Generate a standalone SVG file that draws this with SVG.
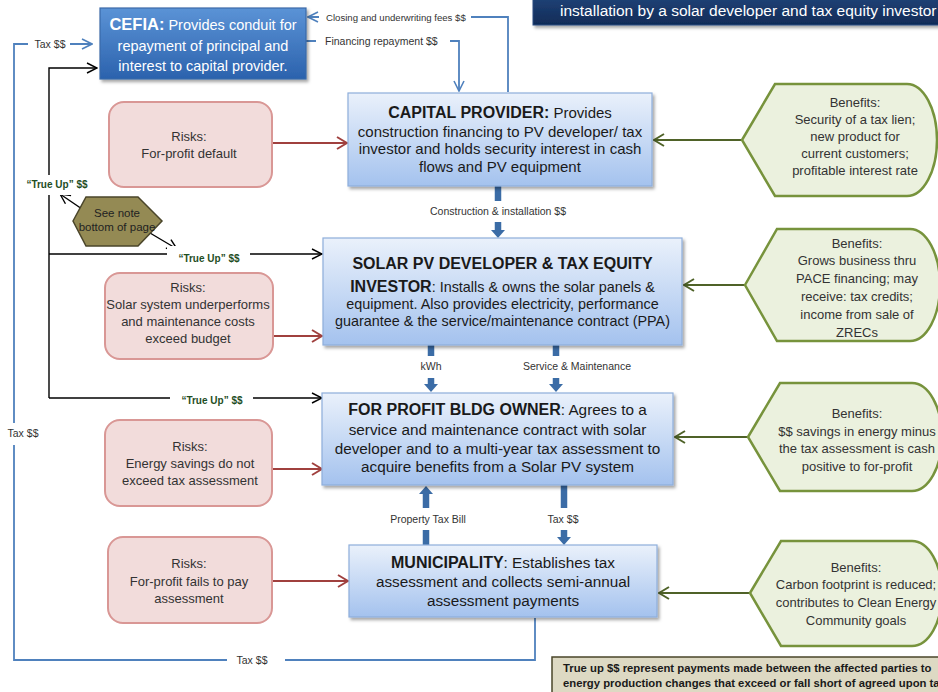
<svg xmlns="http://www.w3.org/2000/svg" width="938" height="692" viewBox="0 0 938 692">
<style>
text{font-family:"Liberation Sans",Arial,sans-serif;}
.lbl{font-size:10.5px;fill:#333;}
.tu{font-size:10px;font-weight:bold;fill:#1f4e1f;}
.lr{fill:#ffffff;}
.blue{fill:none;stroke:#4f81bd;stroke-width:1.8;}
.blk{fill:none;stroke:#000;stroke-width:1.4;}
.red{fill:none;stroke:#a0403e;stroke-width:2;}
.grn{fill:none;stroke:#4f6228;stroke-width:2;}
.thick{stroke:#3b6ca6;stroke-width:6.5;}
.head{fill:#3b6ca6;}
.node{fill:url(#gLight);stroke:#8eaedb;stroke-width:1.2;}
.risk{fill:#f2dcdb;stroke:#d99795;stroke-width:2;}
.ben{fill:#ebf1de;stroke:#77933c;stroke-width:2.5;}
.rt{font-size:13px;fill:#333;text-anchor:middle;}
.nt{fill:#1a1a1a;text-anchor:middle;}
</style>
<defs>
<linearGradient id="gLight" x1="0" y1="0" x2="0" y2="1"><stop offset="0" stop-color="#eaf1fb"/><stop offset="1" stop-color="#a4c2ee"/></linearGradient>
<linearGradient id="gCefia" x1="0" y1="0" x2="0" y2="1"><stop offset="0" stop-color="#5b93d6"/><stop offset="1" stop-color="#2b62ad"/></linearGradient>
<linearGradient id="gTitle" x1="0" y1="0" x2="0" y2="1"><stop offset="0" stop-color="#24487f"/><stop offset="1" stop-color="#102b57"/></linearGradient>
<filter id="sh" x="-10%" y="-10%" width="130%" height="140%"><feDropShadow dx="2" dy="2.5" stdDeviation="1.5" flood-color="#000" flood-opacity="0.35"/></filter>
<marker id="aBlue" viewBox="0 0 12 12" refX="11" refY="6" markerWidth="12" markerHeight="12" markerUnits="userSpaceOnUse" orient="auto"><path d="M1,1 L11,6 L1,11" fill="none" stroke="#4f81bd" stroke-width="1.6"/></marker>
<marker id="aBlk" viewBox="0 0 12 12" refX="11" refY="6" markerWidth="12" markerHeight="12" markerUnits="userSpaceOnUse" orient="auto"><path d="M1,1 L11,6 L1,11" fill="none" stroke="#000" stroke-width="1.4"/></marker>
<marker id="aRed" viewBox="0 0 12 14" refX="11" refY="7" markerWidth="12" markerHeight="14" markerUnits="userSpaceOnUse" orient="auto"><path d="M1,1 L11,7 L1,13" fill="none" stroke="#a0403e" stroke-width="2"/></marker>
<marker id="aGrn" viewBox="0 0 12 14" refX="11" refY="7" markerWidth="12" markerHeight="14" markerUnits="userSpaceOnUse" orient="auto"><path d="M1,1 L11,7 L1,13" fill="none" stroke="#4f6228" stroke-width="2"/></marker>
</defs>
<rect width="938" height="692" fill="#ffffff"/>

<g id="connectors">
<path class="blue" d="M535,618 V660 H14 V44 H92" marker-end="url(#aBlue)"/>
<path class="blue" d="M508,92 V17 H308" marker-end="url(#aBlue)"/>
<path class="blue" d="M306,41 H459 V91" marker-end="url(#aBlue)"/>
<path class="blk" d="M49,398 V68 H97" marker-end="url(#aBlk)"/>
<path class="blk" d="M49,254 H322" marker-end="url(#aBlk)"/>
<path class="blk" d="M49,398 H322" marker-end="url(#aBlk)"/>
<path class="blk" d="M82,209 L60,194" marker-end="url(#aBlk)"/>
<path class="blk" d="M150,233 L177,249" marker-end="url(#aBlk)"/>
<path class="red" d="M272,143 H347" marker-end="url(#aRed)"/>
<path class="red" d="M273,336 H322" marker-end="url(#aRed)"/>
<path class="red" d="M272,469 H322" marker-end="url(#aRed)"/>
<path class="red" d="M272,581 H348" marker-end="url(#aRed)"/>
<path class="grn" d="M742,140 H654" marker-end="url(#aGrn)"/>
<path class="grn" d="M745,285 H684" marker-end="url(#aGrn)"/>
<path class="grn" d="M748,437 H675" marker-end="url(#aGrn)"/>
<path class="grn" d="M750,593 H659" marker-end="url(#aGrn)"/>
<line class="thick" x1="498" y1="186" x2="498" y2="231"/><polygon class="head" points="491,230 505,230 498,238"/>
<line class="thick" x1="431" y1="345" x2="431" y2="385"/><polygon class="head" points="424,384 438,384 431,392"/>
<line class="thick" x1="556" y1="345" x2="556" y2="385"/><polygon class="head" points="549,384 563,384 556,392"/>
<line class="thick" x1="426" y1="545" x2="426" y2="493"/><polygon class="head" points="419,494 433,494 426,486"/>
<line class="thick" x1="564" y1="485" x2="564" y2="538"/><polygon class="head" points="557,537 571,537 564,545"/>
<rect class="lr" x="28" y="34" width="42" height="20"/><text class="lbl" x="50" y="48" text-anchor="middle">Tax $$</text>
<rect class="lr" x="0" y="423" width="50" height="22"/><text class="lbl" x="23" y="437" text-anchor="middle">Tax $$</text>
<rect class="lr" x="227" y="650" width="58" height="20"/><text class="lbl" x="252" y="664" text-anchor="middle">Tax $$</text>
<rect class="lr" x="319" y="8" width="152" height="18"/><text class="lbl" x="326" y="21" style="font-size:9.6px">Closing and underwriting fees $$</text>
<rect class="lr" x="316" y="32" width="134" height="18"/><text class="lbl" x="325" y="45">Financing repayment $$</text>
<rect class="lr" x="412" y="201" width="176" height="21"/><text class="lbl" x="498" y="215" text-anchor="middle">Construction &amp; installation $$</text>
<rect class="lr" x="413" y="356" width="37" height="22"/><text class="lbl" x="431" y="370" text-anchor="middle">kWh</text>
<rect class="lr" x="513" y="356" width="138" height="22"/><text class="lbl" x="577" y="370" text-anchor="middle">Service &amp; Maintenance</text>
<rect class="lr" x="380" y="508" width="102" height="22"/><text class="lbl" x="428" y="523" text-anchor="middle">Property Tax Bill</text>
<rect class="lr" x="537" y="508" width="46" height="22"/><text class="lbl" x="563" y="523" text-anchor="middle">Tax $$</text>
<rect class="lr" x="20" y="175" width="78" height="20"/><text class="tu" x="57" y="188" text-anchor="middle">“True Up” $$</text>
<rect class="lr" x="167" y="246" width="83" height="22"/><text class="tu" x="209" y="262" text-anchor="middle">“True Up” $$</text>
<rect class="lr" x="170" y="388" width="83" height="22"/><text class="tu" x="212" y="404" text-anchor="middle">“True Up” $$</text>
</g>

<g id="title">
<rect x="533" y="-10" width="420" height="35" fill="url(#gTitle)" stroke="#2a4a80" stroke-width="1" filter="url(#sh)"/>
<text x="560" y="15.5" font-size="15.5" fill="#ffffff">installation by a solar developer and tax equity investor</text>
</g>

<g id="cefia">
<rect x="100" y="8" width="206" height="71" fill="url(#gCefia)" stroke="#3a6aa8" stroke-width="1.2" filter="url(#sh)"/>
<text x="203" y="30" font-size="14.5" fill="#ffffff" text-anchor="middle"><tspan font-weight="bold" font-size="16.5">CEFIA:</tspan> Provides conduit for</text>
<text x="203" y="51" font-size="14.5" fill="#ffffff" text-anchor="middle">repayment of principal and</text>
<text x="203" y="71" font-size="14.5" fill="#ffffff" text-anchor="middle">interest to capital provider.</text>
</g>

<g id="capital-provider">
<rect class="node" x="348" y="93" width="304" height="93" filter="url(#sh)"/>
<text class="nt" x="500" y="118" font-size="15"><tspan font-weight="bold" font-size="16">CAPITAL PROVIDER:</tspan> Provides</text>
<text class="nt" x="500" y="136.5" font-size="15">construction financing to PV developer/ tax</text>
<text class="nt" x="500" y="154" font-size="15">investor and holds security interest in cash</text>
<text class="nt" x="500" y="171.5" font-size="15">flows and PV equipment</text>
</g>

<g id="solar-developer">
<rect class="node" x="323" y="238" width="359" height="107" filter="url(#sh)"/>
<text class="nt" x="502.5" y="269" font-size="16" font-weight="bold">SOLAR PV DEVELOPER &amp; TAX EQUITY</text>
<text class="nt" x="502.5" y="292" font-size="14.4"><tspan font-weight="bold" font-size="16">INVESTOR</tspan>: Installs &amp; owns the solar panels &amp;</text>
<text class="nt" x="502.5" y="309" font-size="14.4">equipment. Also provides electricity, performance</text>
<text class="nt" x="502.5" y="326" font-size="14.4">guarantee &amp; the service/maintenance contract (PPA)</text>
</g>

<g id="building-owner">
<rect class="node" x="322" y="393" width="351" height="92" filter="url(#sh)"/>
<text class="nt" x="497.5" y="415" font-size="15.3"><tspan font-weight="bold" font-size="16">FOR PROFIT BLDG OWNER</tspan>: Agrees to a</text>
<text class="nt" x="497.5" y="435" font-size="15.3">service and maintenance contract with solar</text>
<text class="nt" x="497.5" y="453.5" font-size="15.3">developer and to a multi-year tax assessment to</text>
<text class="nt" x="497.5" y="472" font-size="15.3">acquire benefits from a Solar PV system</text>
</g>

<g id="municipality">
<rect class="node" x="349" y="545" width="308" height="72" filter="url(#sh)"/>
<text class="nt" x="503" y="568" font-size="15.3"><tspan font-weight="bold" font-size="16">MUNICIPALITY</tspan>: Establishes tax</text>
<text class="nt" x="503" y="587" font-size="15.3">assessment and collects semi-annual</text>
<text class="nt" x="503" y="606" font-size="15.3">assessment payments</text>
</g>

<g id="risk-1">
<rect class="risk" x="109" y="102" width="163" height="85" rx="15"/>
<text class="rt" x="189" y="141">Risks:</text>
<text class="rt" x="189" y="158">For-profit default</text>
</g>
<g id="risk-2">
<rect class="risk" x="105" y="273" width="168" height="86" rx="15"/>
<text class="rt" x="188" y="292">Risks:</text>
<text class="rt" x="188" y="309">Solar system underperforms</text>
<text class="rt" x="188" y="326">and maintenance costs</text>
<text class="rt" x="188" y="343">exceed budget</text>
</g>
<g id="risk-3">
<rect class="risk" x="105" y="420" width="167" height="86" rx="15"/>
<text class="rt" x="190" y="451">Risks:</text>
<text class="rt" x="190" y="468">Energy savings do not</text>
<text class="rt" x="190" y="485">exceed tax assessment</text>
</g>
<g id="risk-4">
<rect class="risk" x="108" y="537" width="164" height="86" rx="15"/>
<text class="rt" x="189" y="568">Risks:</text>
<text class="rt" x="189" y="586">For-profit fails to pay</text>
<text class="rt" x="189" y="603">assessment</text>
</g>

<g id="note-hexagon">
<polygon points="73,221 86,197 138,197 162,221 138,246 86,246" fill="#948a54" stroke="#4a452a" stroke-width="1.5"/>
<text x="117" y="217" font-size="11.5" fill="#222" text-anchor="middle">See note</text>
<text x="117" y="231" font-size="11.5" fill="#222" text-anchor="middle">bottom of page</text>
</g>

<g id="benefit-1">
<path class="ben" d="M742,140 L775,84 H907 A30,56 0 0 1 907,196 H775 Z"/>
<text class="rt" x="855" y="106.5">Benefits:</text>
<text class="rt" x="855" y="123.5">Security of a tax lien;</text>
<text class="rt" x="855" y="140.5">new product for</text>
<text class="rt" x="855" y="157.5">current customers;</text>
<text class="rt" x="855" y="174.5">profitable interest rate</text>
</g>
<g id="benefit-2">
<path class="ben" d="M745,285 L777,229 H910 A30,56 0 0 1 910,341 H777 Z"/>
<text class="rt" x="857" y="247.5">Benefits:</text>
<text class="rt" x="857" y="265">Grows business thru</text>
<text class="rt" x="857" y="283">PACE financing; may</text>
<text class="rt" x="857" y="301">receive: tax credits;</text>
<text class="rt" x="857" y="319">income from sale of</text>
<text class="rt" x="857" y="336.5">ZRECs</text>
</g>
<g id="benefit-3">
<path class="ben" d="M748,437 L780,383 H912 A30,54 0 0 1 912,491 H780 Z"/>
<text class="rt" x="857" y="417.5">Benefits:</text>
<text class="rt" x="857" y="435.5">$$ savings in energy minus</text>
<text class="rt" x="857" y="453">the tax assessment is cash</text>
<text class="rt" x="857" y="471">positive to for-profit</text>
</g>
<g id="benefit-4">
<path class="ben" d="M750,593 L781,541 H912 A30,52.5 0 0 1 912,646 H781 Z"/>
<text class="rt" x="856" y="571.5">Benefits:</text>
<text class="rt" x="856" y="589">Carbon footprint is reduced;</text>
<text class="rt" x="856" y="607">contributes to Clean Energy</text>
<text class="rt" x="856" y="624.5">Community goals</text>
</g>

<g id="note">
<rect x="552" y="657" width="400" height="45" fill="#ddd9c3" stroke="#4a452a" stroke-width="1.5"/>
<text x="563" y="672" font-size="11.3" font-weight="bold" fill="#1a1a1a">True up $$ represent payments made between the affected parties to</text>
<text x="563" y="687" font-size="11.3" font-weight="bold" fill="#1a1a1a">energy production changes that exceed or fall short of agreed upon targets</text>
</g>
</svg>
